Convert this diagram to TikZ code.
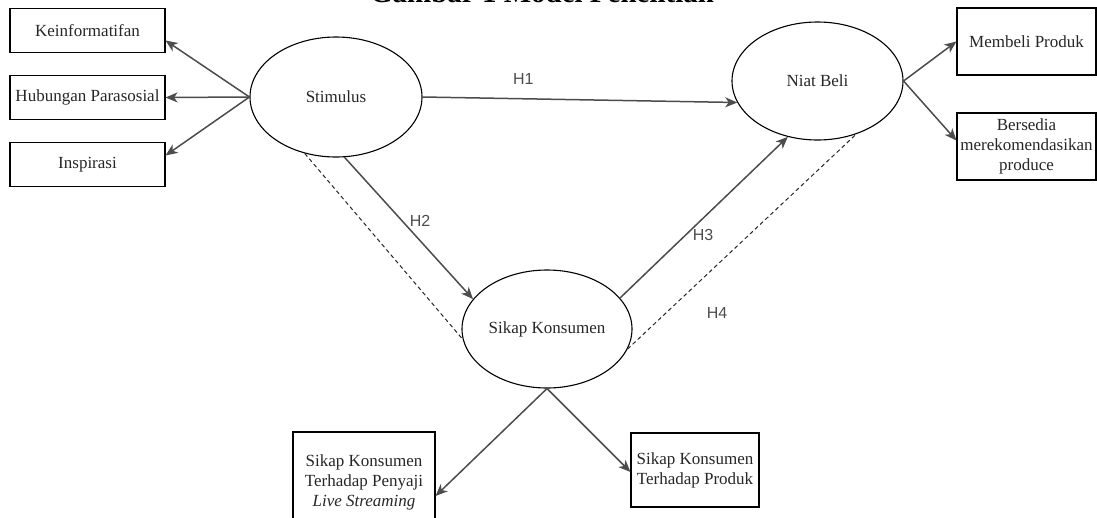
\documentclass[tikz,border=0pt]{standalone}
\usepackage{fontspec}
\setmainfont{Liberation Serif}
\newfontfamily\hsans{Liberation Sans}
\usetikzlibrary{arrows.meta,shapes.geometric}
\begin{document}
\begin{tikzpicture}[x=1pt,y=-1pt,
  box/.style={draw=black, line width=1.1pt, rectangle, inner sep=0pt, align=center,
              font=\fontsize{17}{20}\selectfont, text=black!85},
  latent/.style={draw=black, line width=1.1pt, ellipse, inner sep=0pt,
              font=\fontsize{17}{20}\selectfont, text=black!85},
  arr/.style={draw=black!70, line width=1.5pt, -{Stealth[length=12pt,width=10pt,inset=3.5pt]}},
  dashlink/.style={draw=black!85, line width=1pt, dash pattern=on 4pt off 3pt},
  hlab/.style={font=\hsans\fontsize{16}{19}\selectfont, text=black!70}
]
\useasboundingbox (0,0) rectangle (1097,517);
\begin{scope}
\clip (0,0) rectangle (1097,517);
\node[anchor=base, inner sep=0pt, font=\bfseries\fontsize{29}{34}\selectfont] (title) at (542,2) {Gambar 1 Model Penelitian};
\node[box, minimum width=142pt, minimum height=100pt] (sklive) at (364,482)
  {Sikap Konsumen\\Terhadap Penyaji\\\textit{Live Streaming}};
\end{scope}

% indicator boxes
\node[box, minimum width=155pt, minimum height=44pt] (kein) at (87.5,30.5) {Keinformatifan};
\node[box, minimum width=155pt, minimum height=44pt] (hub) at (87.5,97.5) {Hubungan Parasosial};
\node[box, minimum width=155pt, minimum height=44pt] (insp) at (87.5,164.5) {Inspirasi};
\node[box, minimum width=139pt, minimum height=67pt] (memb) at (1026.5,41.5) {Membeli Produk};
\node[box, minimum width=139pt, minimum height=67pt] (bers) at (1026.5,146.5) {Bersedia\\merekomendasikan\\produce};
\node[box, minimum width=128pt, minimum height=74pt] (skprod) at (695,470) {Sikap Konsumen\\Terhadap Produk};

% latent variables
\node[latent, minimum width=172pt, minimum height=120pt] (stim) at (336,97) {Stimulus};
\node[latent, minimum width=171pt, minimum height=118pt] (niat) at (817.5,81) {Niat Beli};
\node[latent, minimum width=170pt, minimum height=118pt] (sikap) at (547,329) {Sikap Konsumen};

% stimulus indicators
\draw[arr] (stim.west) -- ([yshift=-10pt]kein.east);
\draw[arr] (stim.west) -- (hub.east);
\draw[arr] (stim.west) -- ([yshift=9pt]insp.east);

% niat beli indicators
\draw[arr] (niat.east) -- (memb.west);
\draw[arr] (niat.east) -- ([yshift=6pt]bers.west);

% sikap indicators
\draw[arr] (sikap.south) -- ([yshift=-14pt]sklive.east);
\draw[arr] (sikap.south) -- ([yshift=-2pt]skprod.west);

% hypotheses
\draw[arr] (stim.east) -- (niat.195) node[hlab, pos=0.32, above=10pt] (h1) {H1};
\draw[arr] (stim.278) -- (sikap.158);
\node[hlab] (h2) at (420,221) {H2};
\draw[arr] (sikap.23) -- (niat.242);
\node[hlab] (h3) at (703,235) {H3};
\draw[dashlink] (stim.241) -- (sikap.187);
\draw[dashlink] (sikap.346) -- (niat.306);
\node[hlab] (h4) at (717,313) {H4};
\end{tikzpicture}
\end{document}
